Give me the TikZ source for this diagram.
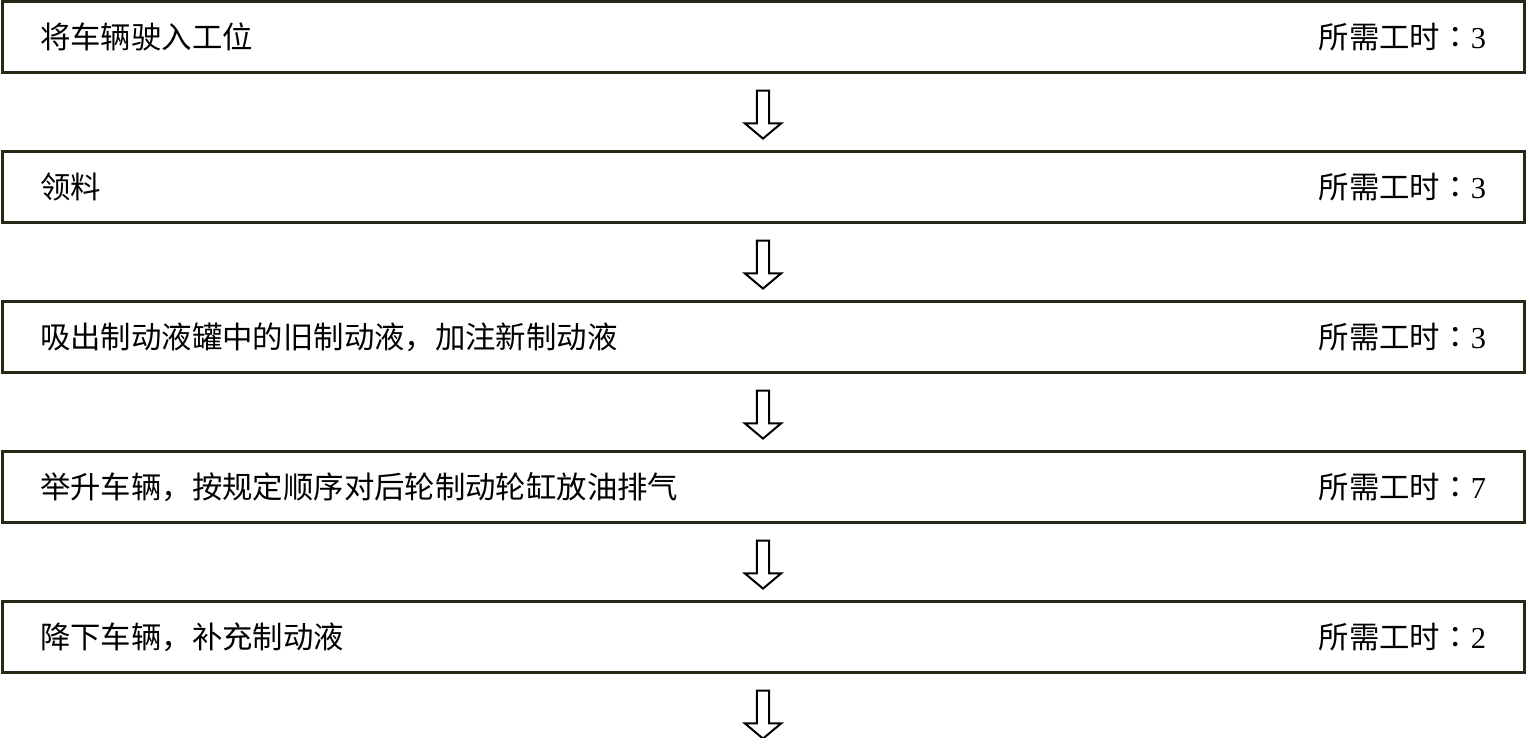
\documentclass[tikz,border=0pt]{standalone}
\usepackage{fontspec}
\setmainfont{Liberation Serif}
\newfontfamily\cjk{Noto Sans CJK SC}
\newfontfamily\cjktc{Noto Sans CJK TC}
\usetikzlibrary{positioning,shapes.arrows,calc}
\definecolor{boxline}{RGB}{40,40,22}
\newcommand{\gongshi}[1]{所需工时{\cjktc ：}{\rmfamily #1}}
\tikzset{
  stepbox/.style   = {shape=rectangle, draw=boxline, line width=1.5pt,
                      text width=723pt, inner xsep=19pt, inner ysep=0pt,
                      minimum height=35.5pt, align=left},
  flowarrow/.style = {single arrow, draw, line width=1pt, inner sep=2.6pt,
                      shape border rotate=270, minimum height=24pt,
                      single arrow head extend=6pt,
                      single arrow tip angle=100},
  every node/.style = {font=\fontsize{15.2}{18}\selectfont\cjk},
}
\begin{document}
\begin{tikzpicture}
    \useasboundingbox (0,0) rectangle (763.5pt,-369pt);
    % steps
    \node [stepbox] (s1) at (381.5pt,-18.5pt) {将车辆驶入工位\hfill\gongshi{3}};
    \node [stepbox, below=38pt of s1] (s2) {领料\hfill\gongshi{3}};
    \node [stepbox, below=38pt of s2] (s3) {吸出制动液罐中的旧制动液，加注新制动液\hfill\gongshi{3}};
    \node [stepbox, below=38pt of s3] (s4) {举升车辆，按规定顺序对后轮制动轮缸放油排气\hfill\gongshi{7}};
    \node [stepbox, below=38pt of s4] (s5) {降下车辆，补充制动液\hfill\gongshi{2}};
    \coordinate [below=38pt of s5] (next);
    % arrows
    \node [flowarrow] (a1) at ($(s1.south)!.5!(s2.north)$) {};
    \node [flowarrow] (a2) at ($(s2.south)!.5!(s3.north)$) {};
    \node [flowarrow] (a3) at ($(s3.south)!.5!(s4.north)$) {};
    \node [flowarrow] (a4) at ($(s4.south)!.5!(s5.north)$) {};
    \node [flowarrow] (a5) at ($(s5.south)!.5!(next)$) {};
\end{tikzpicture}
\end{document}
